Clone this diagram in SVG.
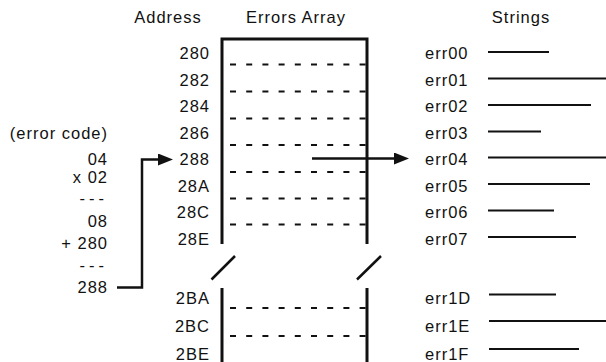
<svg xmlns="http://www.w3.org/2000/svg" width="606" height="362" viewBox="0 0 606 362">
<defs>
<style>
text{font-family:"Liberation Sans",Arial,sans-serif;font-size:16.5px;letter-spacing:1px;fill:#111}
.e{text-anchor:end}
.m{text-anchor:middle}
.b{stroke:#111;stroke-width:3;fill:none}
.d{stroke:#111;stroke-width:2;stroke-dasharray:6 10.2;fill:none}
.s{stroke:#111;stroke-width:2;fill:none}
.c{stroke:#111;stroke-width:2.5;fill:none}
</style>
<marker id="ah" markerUnits="userSpaceOnUse" markerWidth="15" markerHeight="12" refX="7" refY="6" orient="auto">
<path d="M0,0 L15,6 L0,12 z" fill="#111"/>
</marker>
</defs>
<rect width="606" height="362" fill="#fff"/>
<g id="headers">
<text class="m" x="168" y="23">Address</text>
<text class="m" x="296" y="23">Errors Array</text>
<text class="m" x="521" y="23">Strings</text>
</g>
<g id="calc">
<text class="e" x="108" y="138.5">(error code)</text>
<text class="e" x="108" y="164.5">04</text>
<text class="e" x="108" y="183">x 02</text>
<text class="e" x="108" y="203.5" style="letter-spacing:4px">---</text>
<text class="e" x="108" y="227">08</text>
<text class="e" x="108" y="249.3">+ 280</text>
<text class="e" x="108" y="271" style="letter-spacing:4px">---</text>
<text class="e" x="108" y="293">288</text>
</g>
<g id="addresses">
<text class="e" x="210" y="59">280</text>
<text class="e" x="210" y="85.5">282</text>
<text class="e" x="210" y="112">284</text>
<text class="e" x="210" y="138.5">286</text>
<text class="e" x="210" y="165">288</text>
<text class="e" x="210" y="191.5">28A</text>
<text class="e" x="210" y="218">28C</text>
<text class="e" x="210" y="244.5">28E</text>
<text class="e" x="210" y="304">2BA</text>
<text class="e" x="210" y="332">2BC</text>
<text class="e" x="210" y="359.5">2BE</text>
</g>
<g id="errors-array">
<path class="b" d="M222,244 V39 H367 V244"/>
<path class="b" d="M222,288 V362 M367,288 V362"/>
<path class="d" d="M230,64.5 H367 M230,91.5 H367 M230,118.5 H367 M230,145 H367 M230,172 H367 M230,198.5 H367 M230,224.5 H367 M230,308 H367 M230,336 H367"/>
<path class="c" d="M211.5,279.5 L235,256 M357,279.5 L381,256"/>
</g>
<g id="strings">
<g id="err00"><text x="425" y="59">err00</text><line class="s" x1="488" y1="52" x2="549" y2="52"/></g>
<g id="err01"><text x="425" y="85.5">err01</text><line class="s" x1="488" y1="78.5" x2="606" y2="78.5"/></g>
<g id="err02"><text x="425" y="112">err02</text><line class="s" x1="488" y1="105" x2="591" y2="105"/></g>
<g id="err03"><text x="425" y="138.5">err03</text><line class="s" x1="488" y1="131.5" x2="541" y2="131.5"/></g>
<g id="err04"><text x="425" y="165">err04</text><line class="s" x1="488" y1="157.5" x2="606" y2="157.5"/></g>
<g id="err05"><text x="425" y="191.5">err05</text><line class="s" x1="488" y1="184" x2="590" y2="184"/></g>
<g id="err06"><text x="425" y="218">err06</text><line class="s" x1="488" y1="210.5" x2="554" y2="210.5"/></g>
<g id="err07"><text x="425" y="244.5">err07</text><line class="s" x1="488" y1="237" x2="576" y2="237"/></g>
<g id="err1D"><text x="425" y="304">err1D</text><line class="s" x1="489" y1="294.5" x2="556" y2="294.5"/></g>
<g id="err1E"><text x="425" y="332">err1E</text><line class="s" x1="489" y1="321" x2="606" y2="321"/></g>
<g id="err1F"><text x="425" y="359.5">err1F</text><line class="s" x1="489" y1="349" x2="579" y2="349"/></g>
</g>
<g id="connectors">
<polyline class="c" points="117,287.5 142,287.5 142,159.5 165,159.5" marker-end="url(#ah)"/>
<line class="c" x1="312" y1="158.5" x2="401" y2="158.5" marker-end="url(#ah)"/>
</g>
</svg>
